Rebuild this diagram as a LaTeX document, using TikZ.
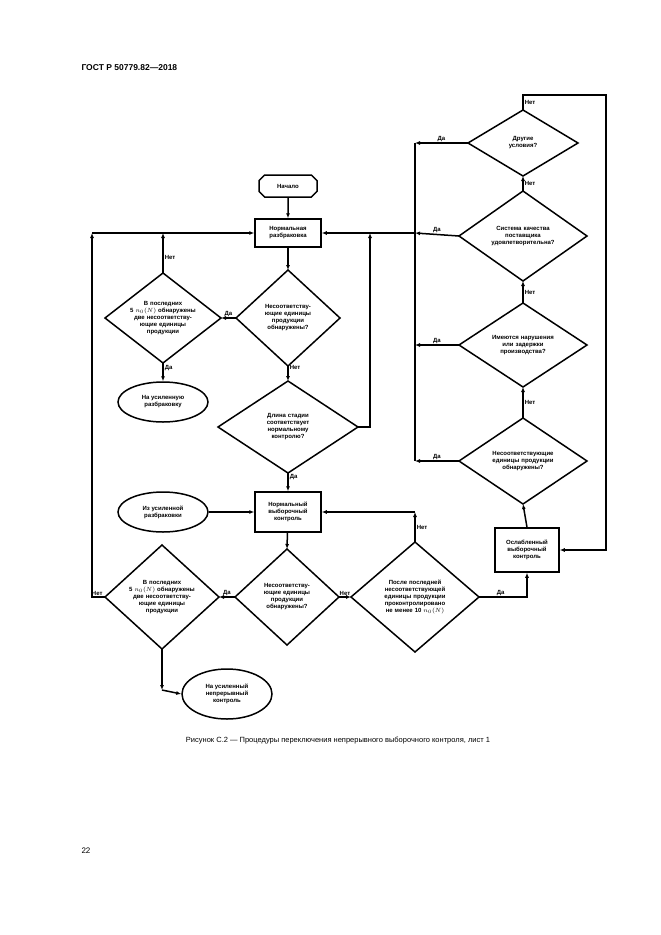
\documentclass[tikz,border=0pt]{standalone}
\usepackage{fontspec}
\setmainfont{Liberation Sans}
\usetikzlibrary{arrows.meta,shapes.geometric,shapes.misc}
\newcommand\mydia[6]{% name x y hw hh text
  \draw[line] (#2-#4,#3) -- (#2,#3-#5) -- (#2+#4,#3) -- (#2,#3+#5) -- cycle;
  \node[txt,text width=#4*1.3pt] (#1) at (#2,#3) {#6};
  \coordinate (#1-l) at (#2-#4,#3);
  \coordinate (#1-r) at (#2+#4,#3);
  \coordinate (#1-t) at (#2,#3-#5);
  \coordinate (#1-b) at (#2,#3+#5);}
\begin{document}
\begin{tikzpicture}[x=1pt,y=-1pt,
  line/.style={line width=1.5pt,line join=miter},
  txt/.style={align=center,font=\fontsize{6}{7}\selectfont\bfseries,inner sep=0pt},
  box/.style={draw,line,txt,rectangle,inner sep=2pt},
  oval/.style={draw,line,txt,ellipse},
  arr/.style={line,-{Latex[length=5pt,width=4pt]}},
  lab/.style={font=\fontsize{6}{7}\selectfont\bfseries,inner sep=1pt}]
\useasboundingbox (0,0) rectangle (661,935);
\node[anchor=west,font=\fontsize{8.5}{10}\selectfont\bfseries] (hdr) at (78,68) {ГОСТ Р 50779.82—2018};
\node[anchor=west,font=\fontsize{8}{10}\selectfont] (pg) at (78,851) {22};
\node[font=\fontsize{7.5}{9}\selectfont] (cap) at (338,741) {Рисунок С.2 — Процедуры переключения непрерывного выборочного контроля, лист 1};

\node[draw,line,txt,chamfered rectangle,chamfered rectangle xsep=8pt,minimum width=58pt,minimum height=22pt] (start) at (288,186) {Начало};
\node[box,minimum width=66pt,minimum height=28pt,text width=60pt] (norm) at (288,233) {Нормальная\\разбраковка};
\mydia{d1}{288}{318}{52}{48}{Несоответству-\\ющие единицы\\продукции\\обнаружены?}
\mydia{d2}{163}{318}{58}{45}{В последних\\5 $n_0(N)$ обнаружены\\две несоответству-\\ющие единицы\\продукции}
\node[oval,minimum width=90pt,minimum height=40pt] (tight1) at (163,402) {На усиленную\\разбраковку};
\mydia{d3}{288}{427}{70}{46}{Длина стадии\\соответствует\\нормальному\\контролю?}
\node[box,minimum width=66pt,minimum height=40pt,text width=60pt] (ns) at (288,512) {Нормальный\\выборочный\\контроль};
\node[oval,minimum width=90pt,minimum height=40pt] (from) at (163,512) {Из усиленной\\разбраковки};
\mydia{d4}{287}{597}{52}{48}{Несоответству-\\ющие единицы\\продукции\\обнаружены?}
\mydia{d5}{162}{597}{57}{52}{В последних\\5 $n_0(N)$ обнаружены\\две несоответству-\\ющие единицы\\продукции}
\node[oval,minimum width=90pt,minimum height=50pt] (tight2) at (227,694) {На усиленный\\непрерывный\\контроль};
\mydia{d6}{415}{597}{64}{55}{После последней\\несоответствующей\\единицы продукции\\проконтролировано\\не менее 10 $n_0(N)$}
\node[box,minimum width=64pt,minimum height=44pt,text width=60pt] (red) at (527,550) {Ослабленный\\выборочный\\контроль};
\mydia{d7}{523}{461}{64}{43}{Несоответствующие\\единицы продукции\\обнаружены?}
\mydia{d8}{523}{345}{64}{42}{Имеются нарушения\\или задержки\\производства?}
\mydia{d9}{523}{236}{64}{45}{Система качества\\поставщика\\удовлетворительна?}
\mydia{d10}{523}{143}{55}{33}{Другие\\условия?}

\coordinate (jl) at (92,233);
\coordinate (jr) at (415,233);
\draw[arr] (start) -- (norm);
\draw[arr] (norm) -- (d1-t);
\draw[arr] (d1-l) -- (d2-r) node[lab,pos=0.5,above] {Да};
\draw[arr] (d2-t) -- (163,233) node[lab,pos=0.4,right] {Нет};
\draw[arr] (d2-b) -- (tight1) node[lab,pos=0.3,right] {Да};
\draw[arr] (d1-b) -- (d3-t) node[lab,pos=0.1,right] {Нет};
\draw[arr] (jl) -- (norm.west);
\draw[arr] (jr) -- (norm.east);
\draw[arr] (d3-r) -- (370,427) -- (370,233);
\draw[arr] (d3-b) -- (ns) node[lab,pos=0.2,right] {Да};
\draw[arr] (from) -- (ns);
\draw[arr] (ns) -- (d4-t);
\draw[arr] (d4-l) -- (d5-r) node[lab,pos=0.5,above] {Да};
\draw[arr] (d5-l) -- (92,597) node[lab,pos=0.6,above] {Нет} -- (jl);
\draw[arr] (d5-b) -- (162,690);
\draw[arr] (162,690) -- (tight2.west);
\draw[arr] (d4-r) -- (d6-l) node[lab,pos=0.5,above] {Нет};
\draw[arr] (d6-t) -- (415,512) node[lab,pos=0.5,right] {Нет};
\draw[arr] (415,512) -- (ns.east);
\draw[arr] (d6-r) -- (527,597) node[lab,pos=0.45,above] {Да} -- (red.south);
\draw[arr] (red.north) -- (d7-b);
\draw[arr] (d7-t) -- (d8-b) node[lab,pos=0.5,right] {Нет};
\draw[arr] (d8-t) -- (d9-b) node[lab,pos=0.5,right] {Нет};
\draw[arr] (d9-t) -- (d10-b) node[lab,pos=0.5,right] {Нет};
\draw[arr] (d10-t) -- (523,95) node[lab,pos=0.5,right] {Нет} -- (606,95) -- (606,550) -- (red.east);
\draw[arr] (d10-l) -- (415,143) node[lab,pos=0.5,above] {Да};
\draw[arr] (d9-l) -- (jr) node[lab,pos=0.5,above] {Да};
\draw[arr] (d8-l) -- (415,345) node[lab,pos=0.5,above] {Да};
\draw[arr] (d7-l) -- (415,461) node[lab,pos=0.5,above] {Да};
\draw[line] (415,143) -- (415,461);
\end{tikzpicture}
\end{document}
